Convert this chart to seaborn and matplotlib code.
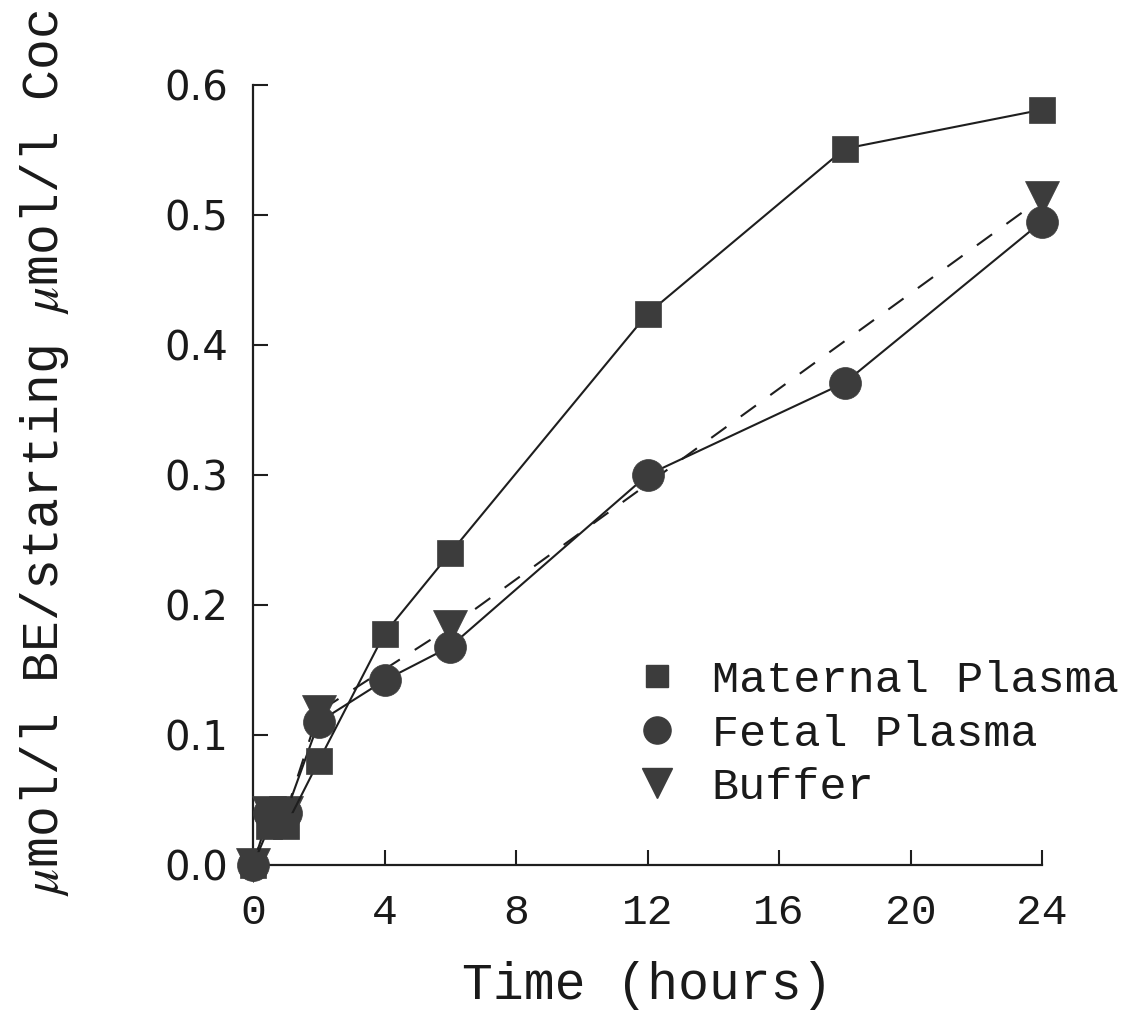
import matplotlib
matplotlib.use("Agg")
import matplotlib.pyplot as plt
import seaborn as sns
import pandas as pd
from matplotlib.lines import Line2D

# ---- data ----
time_maternal = [0, 0.5, 1, 2, 4, 6, 12, 18, 24]
maternal = [0.0, 0.03, 0.03, 0.08, 0.178, 0.24, 0.424, 0.551, 0.581]

time_fetal = [0, 0.5, 1, 2, 4, 6, 12, 18, 24]
fetal = [0.0, 0.04, 0.04, 0.11, 0.142, 0.168, 0.300, 0.371, 0.495]

time_buffer = [0, 0.5, 1, 2, 6, 24]
buffer = [0.0, 0.04, 0.04, 0.118, 0.183, 0.513]

series_names = ["Maternal Plasma", "Fetal Plasma", "Buffer"]
x_ticks = [0, 4, 8, 12, 16, 20, 24]
y_ticks = [0.0, 0.1, 0.2, 0.3, 0.4, 0.5, 0.6]
x_label = "Time (hours)"
y_label = r"$\mu$mol/l BE/starting $\mu$mol/l Coc"

sns.set_style("ticks")
plt.rcParams["font.family"] = ["Liberation Mono", "DejaVu Sans"]
plt.rcParams["mathtext.fontset"] = "stix"

W, H = 1132, 1024
fig = plt.figure(figsize=(W / 100, H / 100), dpi=100)
L, R, B, T = 253, 1042, 865, 85
ax = fig.add_axes([L / W, 1 - B / H, (R - L) / W, (B - T) / H])

line_col = "#1e1e1e"
mark_col = "#3c3c3c"
text_col = "#1a1a1a"

df_m = pd.DataFrame({"t": time_maternal, "v": maternal})
df_f = pd.DataFrame({"t": time_fetal, "v": fetal})
df_b = pd.DataFrame({"t": time_buffer, "v": buffer})

styles = {
    "Buffer": dict(marker="v", markersize=25, linestyle=(0, (9, 8.5))),
    "Fetal Plasma": dict(marker="o", markersize=23, linestyle="-"),
    "Maternal Plasma": dict(marker="s", markersize=19, linestyle="-"),
}

for name, d, z in [("Buffer", df_b, 3), ("Fetal Plasma", df_f, 4), ("Maternal Plasma", df_m, 5)]:
    st = styles[name]
    sns.lineplot(data=d, x="t", y="v", ax=ax, estimator=None, sort=False,
                 color=line_col, lw=1.5, linestyle=st["linestyle"],
                 marker=st["marker"], markersize=st["markersize"],
                 markerfacecolor=mark_col, markeredgecolor=mark_col,
                 markeredgewidth=0.5, clip_on=False, zorder=z)

ax.set_xlim(0, 24)
ax.set_ylim(0, 0.6)
ax.set_xticks(x_ticks)
ax.set_yticks(y_ticks)
ax.set_xticklabels([str(v) for v in x_ticks], fontsize=31, color=text_col,
                   family=["Liberation Mono"])
ax.set_yticklabels([f"{v:.1f}" for v in y_ticks], fontsize=29, color=text_col,
                   family=["DejaVu Sans"])
ax.tick_params(axis="both", direction="in", length=11, width=1.5, color=line_col)
ax.tick_params(axis="x", pad=20)
ax.tick_params(axis="y", pad=18)
sns.despine(ax=ax)
for s in ["left", "bottom"]:
    ax.spines[s].set_linewidth(1.6)
    ax.spines[s].set_color(line_col)
ax.set_xlabel("")
ax.set_ylabel("")

fig.text(647 / W, 1 - 985 / H, x_label, ha="center", va="center",
         fontsize=37, color=text_col)
fig.text(45 / W, 1 - 453 / H, y_label, ha="center", va="center",
         rotation=90, fontsize=37, color=text_col)

handles = [Line2D([], [], linestyle="none", marker=styles[n]["marker"],
                  markersize=styles[n]["markersize"] * 0.85,
                  markerfacecolor=mark_col, markeredgecolor=mark_col)
           for n in series_names]
ax.legend(handles, series_names, loc="upper left",
          bbox_to_anchor=(634 / W, 1 - 660 / H), bbox_transform=fig.transFigure,
          frameon=False, fontsize=32.5, handlelength=1.0, handletextpad=0.72,
          labelspacing=0.28, borderpad=0, borderaxespad=0, labelcolor=text_col)

fig.savefig("out.png", dpi=100)
